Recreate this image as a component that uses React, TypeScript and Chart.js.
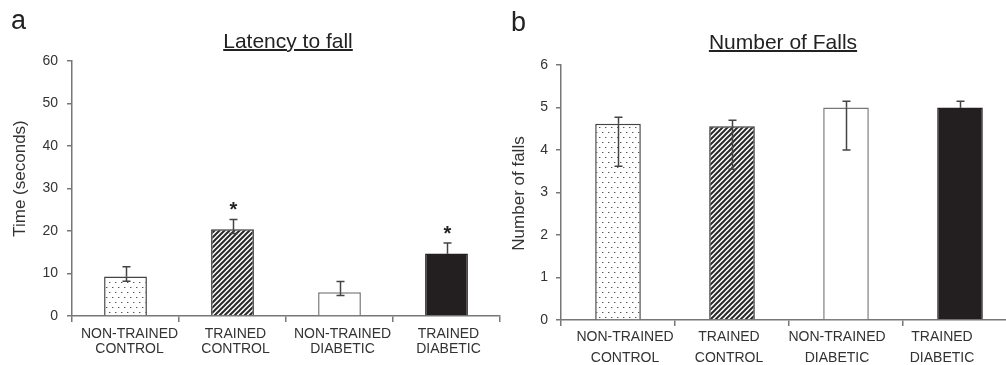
import React, { useEffect, useRef } from 'react';
import { Chart, registerables } from 'chart.js';

Chart.register(...registerables);

// ---------- data ----------
const categories: string[][] = [
  ['NON-TRAINED', 'CONTROL'],
  ['TRAINED', 'CONTROL'],
  ['NON-TRAINED', 'DIABETIC'],
  ['TRAINED', 'DIABETIC'],
];

const latencyMean = [9.3, 20.4, 5.6, 14.7];
const latencyErrUpper = [11.6, 22.7, 8.1, 17.2];
const latencyErrLower = [8.2, 19.4, 4.8, 13.6];
const latencySignificant = [false, true, false, true];
const latencyAxis = [0, 60, 10]; // min, max, step

const fallsMean = [4.62, 4.56, 5.0, 5.0];
const fallsErrUpper = [4.77, 4.7, 5.15, 5.15];
const fallsErrLower = [3.62, 3.55, 4.0, 4.0];
const fallsSignificant = [false, false, false, false];
const fallsAxis = [0, 6, 1];

const FONT = '"Liberation Sans", Arial, Helvetica, sans-serif';
const AXIS_COLOR = '#777';
const TEXT_COLOR = '#333';
const BAR_BORDERS = ['#444', '#333', '#777', '#231f20'];
const LOWER_WHISKER = ['#444', '#444', '#444', '#231f20'];

// ---------- patterns ----------
function makeDotPattern(ctx: CanvasRenderingContext2D) {
  const c = document.createElement('canvas');
  c.width = 6;
  c.height = 10;
  const g = c.getContext('2d')!;
  g.fillStyle = '#fff';
  g.fillRect(0, 0, 6, 10);
  g.fillStyle = '#555';
  g.fillRect(1, 2, 1, 1);
  g.fillRect(4, 7, 1, 1);
  g.fillStyle = '#bbb';
  g.fillRect(2, 2, 1, 1);
  g.fillRect(5, 7, 1, 1);
  return ctx.createPattern(c, 'repeat')!;
}

function makeHatchPattern(ctx: CanvasRenderingContext2D) {
  const s = 5;
  const c = document.createElement('canvas');
  c.width = s;
  c.height = s;
  const g = c.getContext('2d')!;
  g.fillStyle = '#fff';
  g.fillRect(0, 0, s, s);
  g.strokeStyle = '#2a2a2a';
  g.lineWidth = 2;
  g.beginPath();
  g.moveTo(-1, s + 1);
  g.lineTo(s + 1, -1);
  g.moveTo(-1, 1);
  g.lineTo(1, -1);
  g.moveTo(s - 1, s + 1);
  g.lineTo(s + 1, s - 1);
  g.stroke();
  return ctx.createPattern(c, 'repeat')!;
}

// ---------- plugins ----------
const errorBarPlugin = {
  id: 'errorBars',
  afterDatasetsDraw(chart: any, _args: any, opts: any) {
    const meta = chart.getDatasetMeta(0);
    const y = chart.scales.y;
    const ctx = chart.ctx;
    ctx.save();
    ctx.lineWidth = opts.lineWidth;
    meta.data.forEach((bar: any, i: number) => {
      const x = Math.round(bar.x) + 0.5;
      const yu = y.getPixelForValue(opts.upper[i]);
      const yl = y.getPixelForValue(opts.lower[i]);
      const ym = y.getPixelForValue(opts.mean[i]);
      // lower half
      ctx.strokeStyle = opts.lowerColors[i];
      ctx.beginPath();
      ctx.moveTo(x, yl);
      ctx.lineTo(x, ym);
      ctx.moveTo(x - opts.cap, yl);
      ctx.lineTo(x + opts.cap, yl);
      ctx.stroke();
      // upper half
      ctx.strokeStyle = opts.color;
      ctx.beginPath();
      ctx.moveTo(x, ym);
      ctx.lineTo(x, yu);
      ctx.moveTo(x - opts.cap, yu);
      ctx.lineTo(x + opts.cap, yu);
      ctx.stroke();
      if (opts.significant[i]) {
        ctx.fillStyle = '#222';
        ctx.font = `bold ${opts.starSize}px ${FONT}`;
        ctx.textAlign = 'center';
        ctx.textBaseline = 'alphabetic';
        ctx.fillText('*', x, yu - opts.starGap + 0.58 * opts.starSize);
      }
    });
    ctx.restore();
  },
};

const axisTitlePlugin = {
  id: 'axisTitle',
  afterDraw(chart: any, _args: any, opts: any) {
    const { ctx, chartArea } = chart;
    ctx.save();
    ctx.font = `${opts.size}px ${FONT}`;
    ctx.fillStyle = TEXT_COLOR;
    ctx.translate(opts.x, (chartArea.top + chartArea.bottom) / 2 + opts.dy);
    ctx.rotate(-Math.PI / 2);
    ctx.textAlign = 'center';
    ctx.textBaseline = 'middle';
    ctx.fillText(opts.text, 0, 0);
    ctx.restore();
  },
};

// nudges the category labels sideways, as in the reference figure
const labelShiftPlugin = {
  id: 'labelShift',
  beforeDraw(chart: any, _args: any, opts: any) {
    const s = chart.scales.x;
    const items = s.getLabelItems(chart.chartArea);
    items.forEach((it: any, i: number) => {
      if (!it.__shifted) {
        it.options.translation[0] += opts.dx[i] || 0;
        it.__shifted = true;
      }
    });
  },
};

type PanelCfg = {
  mean: number[];
  upper: number[];
  lower: number[];
  significant: boolean[];
  axis: number[];
  yTitle: string;
  yTitleX: number;
  yTitleDy: number;
  padTop: number;
  padRight: number;
  yWidth: number;
  xHeight: number;
  tickPad: number;
  xPad: number;
  xLineHeight: number;
  labelDx: number[];
};

function BarPanel(props: { cfg: PanelCfg; width: number; height: number; left: number }) {
  const ref = useRef<HTMLCanvasElement | null>(null);
  useEffect(() => {
    const canvas = ref.current!;
    const ctx = canvas.getContext('2d')!;
    const c = props.cfg;
    const chart = new Chart(canvas, {
      type: 'bar',
      data: {
        labels: categories,
        datasets: [
          {
            data: c.mean,
            backgroundColor: [makeDotPattern(ctx), makeHatchPattern(ctx), '#ffffff', '#231f20'],
            borderColor: BAR_BORDERS,
            borderWidth: 1.5,
            barPercentage: 0.4,
            categoryPercentage: 1,
          },
        ],
      },
      options: {
        responsive: false,
        animation: false,
        events: [],
        layout: { padding: { top: c.padTop, right: c.padRight, left: 0, bottom: 0 } },
        plugins: {
          legend: { display: false },
          tooltip: { enabled: false },
          title: { display: false },
          errorBars: {
            mean: c.mean,
            upper: c.upper,
            lower: c.lower,
            significant: c.significant,
            color: '#444',
            lowerColors: LOWER_WHISKER,
            lineWidth: 1.5,
            cap: 4,
            starSize: 20,
            starGap: 15,
          },
          axisTitle: { text: c.yTitle, x: c.yTitleX, dy: c.yTitleDy, size: 17 },
          labelShift: { dx: c.labelDx },
        } as any,
        scales: {
          x: {
            type: 'category',
            offset: true,
            afterFit: (s: any) => {
              s.height = c.xHeight;
            },
            grid: {
              display: true,
              offset: true,
              drawOnChartArea: false,
              drawTicks: true,
              tickLength: 6,
              color: AXIS_COLOR,
              lineWidth: 1.5,
            },
            border: { display: true, color: AXIS_COLOR, width: 1.5 },
            ticks: {
              color: TEXT_COLOR,
              font: { family: FONT, size: 14, lineHeight: c.xLineHeight },
              padding: c.xPad,
              maxRotation: 0,
              autoSkip: false,
            },
          },
          y: {
            type: 'linear',
            min: c.axis[0],
            max: c.axis[1],
            afterFit: (s: any) => {
              s.width = c.yWidth;
            },
            grid: {
              display: true,
              drawOnChartArea: false,
              drawTicks: true,
              tickLength: 5,
              color: AXIS_COLOR,
              lineWidth: 1.5,
            },
            border: { display: true, color: AXIS_COLOR, width: 1.5 },
            ticks: {
              stepSize: c.axis[2],
              color: TEXT_COLOR,
              font: { family: FONT, size: 14 },
              padding: c.tickPad,
            },
          },
        },
      },
      plugins: [errorBarPlugin, axisTitlePlugin, labelShiftPlugin],
    } as any);
    return () => chart.destroy();
  }, []);
  return (
    <canvas
      ref={ref}
      width={props.width}
      height={props.height}
      style={{ position: 'absolute', left: props.left, top: 0, width: props.width, height: props.height }}
    />
  );
}

const latencyCfg: PanelCfg = {
  mean: latencyMean,
  upper: latencyErrUpper,
  lower: latencyErrLower,
  significant: latencySignificant,
  axis: latencyAxis,
  yTitle: 'Time (seconds)',
  yTitleX: 20,
  yTitleDy: -10,
  padTop: 61,
  padRight: 5,
  yWidth: 72,
  xHeight: 49,
  tickPad: 9,
  xPad: 5,
  xLineHeight: 1.05,
  labelDx: [4, 3, 3, 2],
};

const fallsCfg: PanelCfg = {
  mean: fallsMean,
  upper: fallsErrUpper,
  lower: fallsErrLower,
  significant: fallsSignificant,
  axis: fallsAxis,
  yTitle: 'Number of falls',
  yTitleX: 14,
  yTitleDy: 1,
  padTop: 65,
  padRight: 8,
  yWidth: 56,
  xHeight: 45,
  tickPad: 8,
  xPad: 1,
  xLineHeight: 1.5,
  labelDx: [7, -3, -9, -18],
};

const textBase: React.CSSProperties = {
  position: 'absolute',
  fontFamily: FONT,
  color: '#222',
  whiteSpace: 'nowrap',
};

export default function App() {
  return (
    <div
      style={{
        position: 'absolute',
        left: 0,
        top: 0,
        width: 1006,
        height: 365,
        overflow: 'hidden',
        background: '#fff',
      }}
    >
      <BarPanel cfg={latencyCfg} width={505} height={365} left={0} />
      <BarPanel cfg={fallsCfg} width={520} height={365} left={505} />
      <div style={{ ...textBase, left: 11, top: 7, fontSize: 27, lineHeight: '27px' }}>a</div>
      <div style={{ ...textBase, left: 511, top: 9, fontSize: 27, lineHeight: '27px' }}>b</div>
      <div
        style={{
          ...textBase,
          left: 288 - 150,
          width: 300,
          textAlign: 'center',
          top: 30,
          fontSize: 21,
          lineHeight: '21px',
          textDecoration: 'underline',
          textDecorationThickness: '2px',
        }}
      >
        Latency to fall
      </div>
      <div
        style={{
          ...textBase,
          left: 783 - 150,
          width: 300,
          textAlign: 'center',
          top: 31,
          fontSize: 21,
          lineHeight: '21px',
          textDecoration: 'underline',
          textDecorationThickness: '2px',
        }}
      >
        Number of Falls
      </div>
    </div>
  );
}
